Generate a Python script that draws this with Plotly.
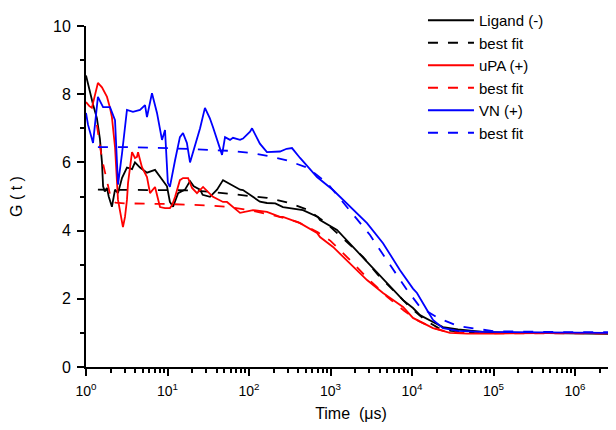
import plotly.graph_objects as go

# ---------------- data ----------------
lig_t = [1.0, 1.06, 1.12, 1.22, 1.36, 1.48, 1.57, 1.62, 1.7, 1.81, 1.9, 2.08, 2.27, 2.47, 2.77,
         3.18, 3.67, 3.99, 4.6, 5.6, 7.03, 8.56, 9.86, 10.7, 11.7, 13.5, 16.4, 18.9, 21.0, 25.1,
         27.0, 33.2, 40.5, 48.0, 55.0, 63.6, 78.0, 84.4, 112, 136, 166, 210, 261, 330, 460, 700,
         743, 1202, 1888, 3053, 4933, 7762, 10280, 12530, 18100, 24000, 36650, 47300, 74300,
         150000, 400000, 1000000, 3200000]
lig_g = [8.55, 8.3, 8.0, 7.7, 7.3, 6.7, 6.0, 5.3, 5.15, 5.25, 5.0, 4.7, 5.2, 5.1, 5.55,
         5.85, 5.8, 6.0, 5.85, 5.7, 5.78, 5.48, 5.3, 4.84, 4.7, 5.1, 5.2, 5.45, 5.3, 5.2,
         5.05, 4.99, 5.2, 5.48, 5.4, 5.34, 5.2, 5.19, 4.99, 4.85, 4.81, 4.8, 4.69, 4.65, 4.6, 4.4,
         4.31, 4.02, 3.52, 2.99, 2.46, 1.96, 1.73, 1.52, 1.32, 1.17, 1.1, 1.08, 1.03,
         1.01, 1.0, 0.99, 0.97]

lig_fit_t = [1.4, 2.0, 5.0, 10.0, 20.0, 40.0, 80.0, 166, 292, 515, 857, 1000, 2505, 3827, 6184,
             10000, 15000, 21000, 30000, 50000, 100000, 1000000, 3200000]
lig_fit_g = [5.2, 5.2, 5.2, 5.2, 5.18, 5.12, 5.05, 4.96, 4.83, 4.62, 4.25, 4.1, 3.23, 2.7, 2.2,
             1.7, 1.35, 1.15, 1.06, 1.02, 1.0, 1.0, 1.0]

upa_t = [1.0, 1.1, 1.18, 1.4, 1.57, 1.81, 1.97, 2.08, 2.27, 2.47, 2.84, 3.01, 3.18, 3.28, 3.67,
         3.99, 4.22, 4.35, 4.86, 5.3, 5.6, 6.1, 7.03, 8.09, 9.3, 10.7, 11.4, 12.4, 14.2, 15.5,
         17.9, 20.0, 23.0, 27.3, 36.1, 48.0, 53.7, 77.6, 112, 166, 240, 261, 423, 683, 743,
         1074, 1734, 2806, 4409, 7762, 10280, 18100, 29250, 47300, 100000, 300000, 1000000,
         3200000]
upa_g = [7.77, 7.65, 7.6, 8.33, 8.2, 7.92, 7.6, 7.33, 6.45, 4.9, 4.1, 4.4, 4.9, 5.4, 6.3,
         6.13, 6.16, 6.3, 5.86, 5.69, 5.57, 5.1, 5.28, 4.69, 4.66, 4.66, 4.75, 4.99, 5.48, 5.54,
         5.54, 5.25, 5.1, 5.28, 4.99, 4.84, 4.84, 4.52, 4.6, 4.55, 4.4, 4.4, 4.22, 3.93, 3.81,
         3.52, 3.05, 2.55, 2.17, 1.76, 1.44, 1.14, 1.0, 0.98, 0.98, 1.0, 1.0, 0.98]

upa_fit_t = [1.36, 1.57, 1.81, 2.0, 2.3, 3.0, 10.0, 30.0, 58.0, 100, 200, 400, 700, 1000, 1800,
             3000, 5000, 8000, 12000, 18000, 25000, 40000, 100000, 1000000, 3200000]
upa_fit_g = [7.1, 6.1, 5.45, 5.0, 4.82, 4.8, 4.78, 4.74, 4.69, 4.6, 4.45, 4.25, 3.95, 3.7, 3.1,
             2.55, 2.05, 1.65, 1.35, 1.15, 1.05, 1.0, 0.99, 0.99, 0.99]

vn_t = [1.0, 1.06, 1.22, 1.4, 1.62, 1.97, 2.27, 2.4, 2.47, 2.77, 3.18, 3.77, 4.6, 5.3, 5.6,
        6.45, 7.43, 8.56, 9.32, 10.1, 10.7, 12.4, 14.2, 15.5, 17.3, 18.9, 21.7, 25.1, 28.8,
        33.0, 36.1, 41.0, 46.7, 50.8, 58.5, 63.6, 77.6, 84.4, 103, 109, 120, 136, 166, 240,
        290, 337, 423, 683, 1074, 1734, 2806, 4409, 7128, 10280, 11510, 15280, 18100, 24000,
        36650, 74300, 200000, 1000000, 3200000]
vn_g = [7.45, 7.1, 6.57, 7.92, 7.62, 7.62, 7.24, 6.2, 5.35, 6.27, 7.54, 7.48, 7.54, 7.68, 7.33,
        8.03, 7.45, 6.66, 6.95, 5.4, 5.28, 6.07, 6.74, 6.86, 6.57, 6.0, 6.5, 7.0, 7.6,
        7.3, 7.04, 6.6, 6.22, 6.74, 6.66, 6.72, 6.66, 6.7, 6.9, 7.0, 6.8, 6.55, 6.3, 6.32,
        6.4, 6.42, 6.13, 5.57, 5.19, 4.7, 4.22, 3.63, 2.84, 2.3, 2.17, 1.67, 1.38, 1.14,
        1.06, 1.03, 1.02, 1.02, 1.0]

vn_fit_t = [1.4, 3.0, 10.0, 36.0, 58.0, 103, 171, 292, 515, 906, 3053, 4288, 6184, 8690, 12530,
            20850, 36650, 100000, 1000000, 3200000]
vn_fit_g = [6.45, 6.45, 6.42, 6.36, 6.34, 6.28, 6.19, 6.06, 5.85, 5.4, 3.87, 3.34, 2.79, 2.26,
            1.76, 1.44, 1.2, 1.05, 1.02, 1.02]

x_tickvals = [1, 10, 100, 1000, 10000, 100000, 1000000]
x_ticktext = ["10<sup>0</sup>", "10<sup>1</sup>", "10<sup>2</sup>", "10<sup>3</sup>",
              "10<sup>4</sup>", "10<sup>5</sup>", "10<sup>6</sup>"]
y_tickvals = [0, 2, 4, 6, 8, 10]

series = [
    ("Ligand (-)", lig_t, lig_g, "#000000", "solid"),
    ("best fit", lig_fit_t, lig_fit_g, "#000000", "10px,10px"),
    ("uPA (+)", upa_t, upa_g, "#ff0000", "solid"),
    ("best fit", upa_fit_t, upa_fit_g, "#ff0000", "10px,10px"),
    ("VN (+)", vn_t, vn_g, "#0000ff", "solid"),
    ("best fit", vn_fit_t, vn_fit_g, "#0000ff", "10px,10px"),
]

FONT = "Liberation Sans, Arial, sans-serif"

fig = go.Figure()
for name, t, g, col, dash in series:
    fig.add_trace(go.Scatter(x=t, y=g, mode="lines", name=name,
                             line=dict(color=col, width=1.8, dash=dash)))

# the page body adds an 8px offset; the plot area runs to the right edge of the window
fig.update_layout(
    width=616, height=414,
    margin=dict(l=78, r=8, t=18, b=55, autoexpand=False),
    paper_bgcolor="white", plot_bgcolor="white",
    font=dict(family=FONT, size=16, color="black"),
    showlegend=True,
    legend=dict(x=0.6358, y=1.0645, xanchor="left", yanchor="top", itemwidth=46,
                bgcolor="rgba(0,0,0,0)", font=dict(size=15), tracegroupgap=0),
    xaxis=dict(type="log", range=[0, 6.503], showgrid=False, zeroline=False, automargin=False,
               showline=True, linecolor="black", linewidth=2, mirror=False,
               ticks="outside", ticklen=7, tickwidth=1.5, tickcolor="black",
               tickvals=x_tickvals, ticktext=x_ticktext, tickfont=dict(size=14),
               ticklabelstandoff=3,
               minor=dict(ticks="outside", ticklen=4, tickwidth=1.5, tickcolor="black",
                          dtick="D1", showgrid=False),
               title=dict(text="Time  (μs)", font=dict(size=16), standoff=16)),
    yaxis=dict(range=[0, 10], showgrid=False, zeroline=False, automargin=False,
               showline=True, linecolor="black", linewidth=2, mirror=False,
               ticks="outside", ticklen=7, tickwidth=1.5, tickcolor="black",
               tickvals=y_tickvals, tickfont=dict(size=16), ticklabelstandoff=3,
               minor=dict(ticks="outside", ticklen=4, tickwidth=1.5, tickcolor="black",
                          dtick=1, showgrid=False),
               title=dict(text="G ( t )", font=dict(size=16), standoff=26)),
)

fig.write_html("out.html")
